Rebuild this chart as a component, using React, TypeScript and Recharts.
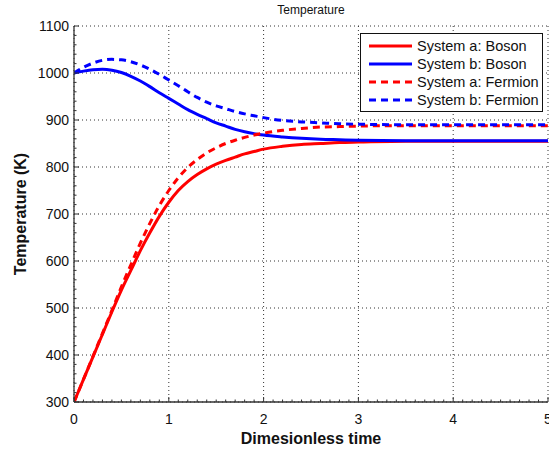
import { LineChart, Line, XAxis, YAxis, CartesianGrid, Legend, Label } from "recharts";

const FONT = '"Liberation Sans", Arial, Helvetica, sans-serif';
const AXIS_COLOR = "#333";

// dimensionless time samples
const TIME = [0, 0.1, 0.2, 0.3, 0.4, 0.5, 0.6, 0.7, 0.8, 0.9, 1.0, 1.1, 1.2, 1.3, 1.4, 1.5, 1.6, 1.7, 1.8, 1.9, 2.0, 2.2, 2.4, 2.6, 2.8, 3.0, 3.5, 4.0, 4.5, 5.0];

const SYS_A_BOSON = [300, 348, 396, 444, 492, 538, 580, 622, 660, 695, 725, 750, 769, 784, 796, 806, 814, 821, 828, 833, 838, 844, 848, 850, 852, 853, 855, 855, 855, 855];
const SYS_B_BOSON = [1000, 1004, 1007, 1008, 1006, 1001, 993, 983, 971, 958, 946, 934, 922, 912, 903, 894, 887, 880, 875, 871, 868, 864, 861, 859, 858, 857, 856, 856, 856, 856];
const SYS_A_FERMION = [300, 348, 397, 446, 495, 545, 592, 638, 680, 718, 750, 777, 799, 816, 830, 841, 850, 857, 863, 868, 872, 878, 882, 885, 886, 887, 888, 888, 888, 888];
const SYS_B_FERMION = [1000, 1012, 1021, 1027, 1029, 1028, 1024, 1017, 1008, 997, 985, 973, 960, 948, 938, 930, 924, 918, 913, 909, 905, 899, 896, 894, 892, 891, 890, 890, 890, 890];

const X_MAJOR = [0, 1, 2, 3, 4, 5];
const Y_MAJOR = [300, 400, 500, 600, 700, 800, 900, 1000, 1100];

// minor ticks: every 0.1 on x, every 20 on y
const X_TICKS = Array.from({ length: 51 }, (_, i) => i / 10);
const Y_TICKS = Array.from({ length: 41 }, (_, i) => 300 + i * 20);

const SERIES = [
  { key: "aBoson", name: "System a: Boson", color: "#ff0000", dash: undefined as string | undefined, values: SYS_A_BOSON },
  { key: "bBoson", name: "System b: Boson", color: "#0000ff", dash: undefined as string | undefined, values: SYS_B_BOSON },
  { key: "aFermion", name: "System a: Fermion", color: "#ff0000", dash: "7 5", values: SYS_A_FERMION },
  { key: "bFermion", name: "System b: Fermion", color: "#0000ff", dash: "7 5", values: SYS_B_FERMION },
];

const rows = TIME.map((t, i) => {
  const r: Record<string, number> = { t };
  SERIES.forEach((s) => (r[s.key] = s.values[i]));
  return r;
});

const isMajor = (list: number[], v: number) => list.some((m) => Math.abs(m - v) < 1e-6);

function XTick(props: any) {
  const { x, y, payload } = props;
  const major = isMajor(X_MAJOR, payload.value);
  return (
    <g>
      <line x1={x} x2={x} y1={y} y2={y - (major ? 5 : 2.5)} stroke={AXIS_COLOR} strokeWidth={1} />
      {major && (
        <text x={x} y={y + 22} textAnchor="middle" fontFamily={FONT} fontSize={14} fill="#111">
          {payload.value}
        </text>
      )}
    </g>
  );
}

function YTick(props: any) {
  const { x, y, payload } = props;
  const major = isMajor(Y_MAJOR, payload.value);
  return (
    <g>
      <line x1={x} x2={x + (major ? 5 : 2.5)} y1={y} y2={y} stroke={AXIS_COLOR} strokeWidth={1} />
      {major && (
        <text x={x - 5} y={y + 5} textAnchor="end" fontFamily={FONT} fontSize={14} fill="#111">
          {payload.value}
        </text>
      )}
    </g>
  );
}

function LegendBox() {
  return (
    <div
      style={{
        border: "1.3px solid #111",
        background: "#fff",
        width: 181,
        padding: "3px 0 2px 0",
        fontFamily: FONT,
        fontSize: 14.5,
        color: "#111",
        whiteSpace: "nowrap",
      }}
    >
      {SERIES.map((s) => (
        <div key={s.key} style={{ display: "flex", alignItems: "center", height: 18 }}>
          <svg width={56} height={18} style={{ flex: "none" }}>
            <line x1={8} x2={51} y1={9} y2={9} stroke={s.color} strokeWidth={3} strokeDasharray={s.dash} />
          </svg>
          <span>{s.name}</span>
        </div>
      ))}
    </div>
  );
}

export default function App() {
  return (
    <div style={{ position: "absolute", left: 0, top: 0, width: 549, height: 450, background: "#fff" }}>
      <div
        style={{
          position: "absolute",
          left: 74,
          width: 474,
          top: 3,
          textAlign: "center",
          fontFamily: FONT,
          fontSize: 12,
          lineHeight: "14px",
          color: "#111",
        }}
      >
        Temperature
      </div>
      <LineChart width={549} height={450} data={rows} margin={{ top: 26, right: 1, left: 0, bottom: 0 }}>
        <CartesianGrid
          stroke="#333"
          strokeDasharray="1 3"
          horizontalValues={Y_MAJOR}
          verticalValues={X_MAJOR}
        />
        <XAxis
          dataKey="t"
          type="number"
          domain={[0, 5]}
          ticks={X_TICKS}
          interval={0}
          height={48}
          tickSize={0}
          tickMargin={0}
          tickLine={false}
          tick={<XTick />}
          axisLine={{ stroke: AXIS_COLOR, strokeWidth: 1.3 }}
          allowDataOverflow
        >
          <Label
            content={() => (
              <text x={311} y={444} textAnchor="middle" fontFamily={FONT} fontSize={16} fontWeight="bold" fill="#111">
                Dimesionless time
              </text>
            )}
          />
        </XAxis>
        <YAxis
          type="number"
          domain={[300, 1100]}
          ticks={Y_TICKS}
          interval={0}
          width={74}
          tickSize={0}
          tickMargin={0}
          tickLine={false}
          tick={<YTick />}
          axisLine={{ stroke: AXIS_COLOR, strokeWidth: 1.3 }}
          allowDataOverflow
        >
          <Label
            content={() => (
              <text
                x={26}
                y={214}
                transform="rotate(-90 26 214)"
                textAnchor="middle"
                fontFamily={FONT}
                fontSize={16}
                fontWeight="bold"
                fill="#111"
              >
                Temperature (K)
              </text>
            )}
          />
        </YAxis>
        {SERIES.map((s) => (
          <Line
            key={s.key}
            dataKey={s.key}
            name={s.name}
            type="monotone"
            stroke={s.color}
            strokeWidth={3}
            strokeDasharray={s.dash}
            dot={false}
            activeDot={false}
            isAnimationActive={false}
          />
        ))}
        <Legend
          layout="horizontal"
          verticalAlign="middle"
          align="center"
          content={() => <LegendBox />}
          wrapperStyle={{ position: "absolute", left: 360, top: 33, width: 183, height: 78 }}
        />
      </LineChart>
    </div>
  );
}
